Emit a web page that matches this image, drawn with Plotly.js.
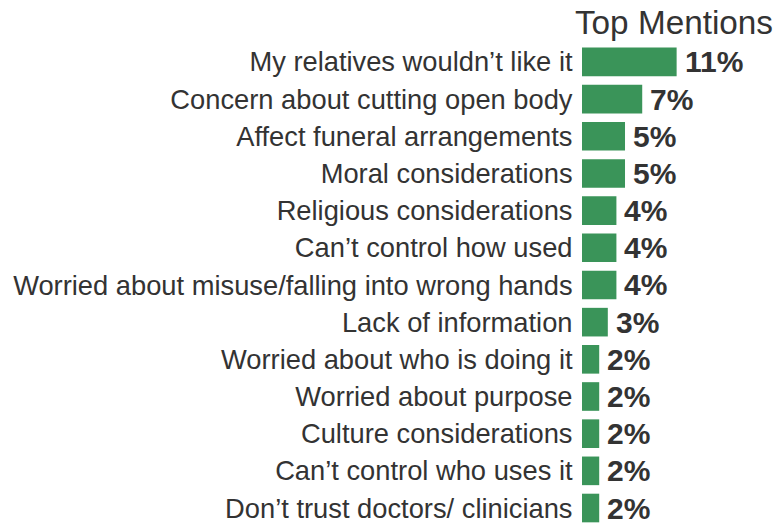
<!DOCTYPE html>
<html>
<head>
<meta charset="utf-8">
<script src="https://cdn.plot.ly/plotly-3.0.1.min.js"></script>
<style>
  html, body { margin: 0; padding: 0; background: #ffffff; }
  #chart { width: 779px; height: 524px; }
</style>
</head>
<body>
<div id="chart"></div>
<script>
// Reasons mentioned, in display order (top to bottom)
const reasons = [
  "My relatives wouldn’t like it",
  "Concern about cutting open body",
  "Affect funeral arrangements",
  "Moral considerations",
  "Religious considerations",
  "Can’t control how used",
  "Worried about misuse/falling into wrong hands",
  "Lack of information",
  "Worried about who is doing it",
  "Worried about purpose",
  "Culture considerations",
  "Can’t control who uses it",
  "Don’t trust doctors/ clinicians"
];

// Share of respondents mentioning each reason (%)
const shares = [11, 7, 5, 5, 4, 4, 4, 3, 2, 2, 2, 2, 2];

const chartTitle = "Top Mentions";

const FONT = "Arial, 'Liberation Sans', sans-serif";
const TEXT = "#333333";
const BAR = "#3a9459";

const trace = {
  type: "bar",
  orientation: "h",
  x: shares,
  y: reasons,
  marker: { color: BAR, line: { width: 0 } },
  hoverinfo: "none"
};

// Bold value labels just past the end of each bar
const valueLabels = reasons.map((r, i) => ({
  x: shares[i],
  y: r,
  xref: "x",
  yref: "y",
  text: "<b>" + shares[i] + "%</b>",
  showarrow: false,
  xanchor: "left",
  yanchor: "middle",
  xshift: 6,
  font: { family: FONT, size: 30, color: TEXT }
}));

const layout = {
  width: 779,
  height: 524,
  margin: { l: 582, r: 0, t: 40, b: 0, pad: 0 },
  paper_bgcolor: "#ffffff",
  plot_bgcolor: "#ffffff",
  showlegend: false,
  bargap: 0.23,
  title: {
    text: chartTitle,
    font: { family: FONT, size: 33.3, color: TEXT },
    xref: "container",
    yref: "container",
    x: 773 / 779,
    xanchor: "right",
    y: 1 - 22 / 524,
    yanchor: "middle"
  },
  xaxis: {
    range: [0, 22.9],
    visible: false,
    fixedrange: true
  },
  yaxis: {
    type: "category",
    range: [12.43, -0.59],
    showgrid: false,
    zeroline: false,
    showline: false,
    ticks: "outside",
    ticklen: 3,
    tickcolor: "rgba(0,0,0,0)",
    tickfont: { family: FONT, size: 27.3, color: TEXT },
    automargin: false,
    fixedrange: true
  },
  annotations: valueLabels
};

Plotly.newPlot("chart", [trace], layout, { displayModeBar: false, staticPlot: true });
</script>
</body>
</html>
